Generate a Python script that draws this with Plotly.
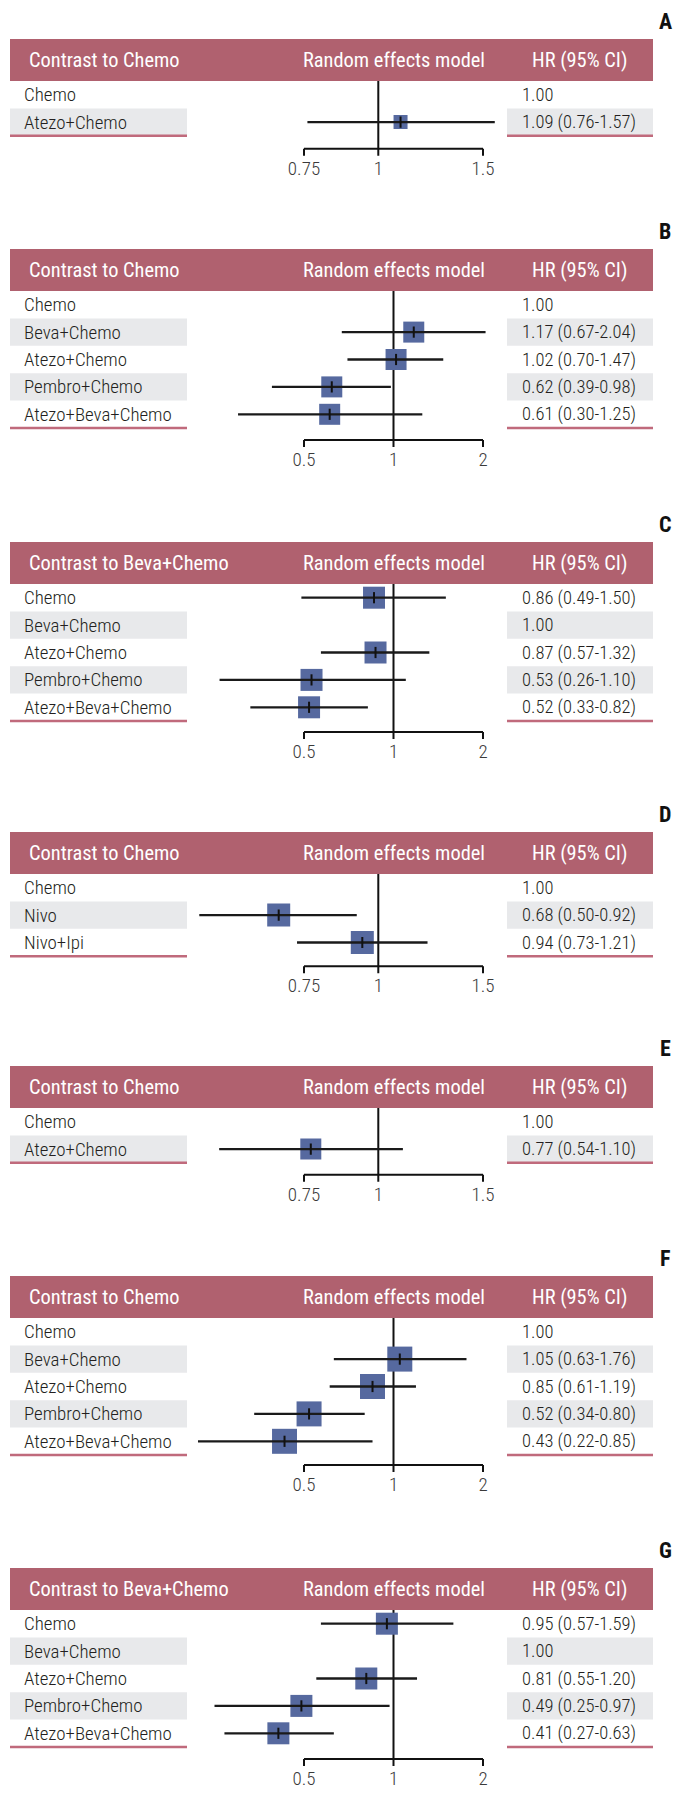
import math
import plotly.graph_objects as go

# The page body has an 8px margin, so the figure is drawn 8px in from the window edge.
PAGE_W, PAGE_H = 683, 1797
OFF = 8
W, H = PAGE_W - 2 * OFF, PAGE_H - 2 * OFF

# ---------------- data ----------------
panel_letters = ["A", "B", "C", "D", "E", "F", "G"]
reference_arms = ["Chemo", "Chemo", "Beva+Chemo", "Chemo", "Chemo", "Chemo", "Beva+Chemo"]

arms_A = ["Chemo", "Atezo+Chemo"]
hr_A = [1.00, 1.09]
lo_A = [None, 0.76]
hi_A = [None, 1.57]
ticks_A = [0.75, 1, 1.5]

arms_B = ["Chemo", "Beva+Chemo", "Atezo+Chemo", "Pembro+Chemo", "Atezo+Beva+Chemo"]
hr_B = [1.00, 1.17, 1.02, 0.62, 0.61]
lo_B = [None, 0.67, 0.70, 0.39, 0.30]
hi_B = [None, 2.04, 1.47, 0.98, 1.25]
ticks_B = [0.5, 1, 2]

arms_C = ["Chemo", "Beva+Chemo", "Atezo+Chemo", "Pembro+Chemo", "Atezo+Beva+Chemo"]
hr_C = [0.86, 1.00, 0.87, 0.53, 0.52]
lo_C = [0.49, None, 0.57, 0.26, 0.33]
hi_C = [1.50, None, 1.32, 1.10, 0.82]
ticks_C = [0.5, 1, 2]

arms_D = ["Chemo", "Nivo", "Nivo+Ipi"]
hr_D = [1.00, 0.68, 0.94]
lo_D = [None, 0.50, 0.73]
hi_D = [None, 0.92, 1.21]
ticks_D = [0.75, 1, 1.5]

arms_E = ["Chemo", "Atezo+Chemo"]
hr_E = [1.00, 0.77]
lo_E = [None, 0.54]
hi_E = [None, 1.10]
ticks_E = [0.75, 1, 1.5]

arms_F = ["Chemo", "Beva+Chemo", "Atezo+Chemo", "Pembro+Chemo", "Atezo+Beva+Chemo"]
hr_F = [1.00, 1.05, 0.85, 0.52, 0.43]
lo_F = [None, 0.63, 0.61, 0.34, 0.22]
hi_F = [None, 1.76, 1.19, 0.80, 0.85]
ticks_F = [0.5, 1, 2]

arms_G = ["Chemo", "Beva+Chemo", "Atezo+Chemo", "Pembro+Chemo", "Atezo+Beva+Chemo"]
hr_G = [0.95, 1.00, 0.81, 0.49, 0.41]
lo_G = [0.57, None, 0.55, 0.25, 0.27]
hi_G = [1.59, None, 1.20, 0.97, 0.63]
ticks_G = [0.5, 1, 2]

panels = [
    (arms_A, hr_A, lo_A, hi_A, ticks_A),
    (arms_B, hr_B, lo_B, hi_B, ticks_B),
    (arms_C, hr_C, lo_C, hi_C, ticks_C),
    (arms_D, hr_D, lo_D, hi_D, ticks_D),
    (arms_E, hr_E, lo_E, hi_E, ticks_E),
    (arms_F, hr_F, lo_F, hi_F, ticks_F),
    (arms_G, hr_G, lo_G, hi_G, ticks_G),
]

# ---------------- layout / style (page pixel positions) ----------------
header_tops = [39, 249, 542, 832, 1066, 1276, 1568]
gaps = [13, 12, 11, 10, 12, 10, 12]
square_sizes = [14, 21, 22, 23, 21, 25, 22]
HEAD = 42
ROW = 27.4
AX_L, AX_R = 304, 483
LEFT_X0, LEFT_X1 = 10, 187
RIGHT_X0, RIGHT_X1 = 507, 653
BELOW = 30


def px(xpage):
    return (xpage - OFF) / W


def py(ypage):
    return (H - (ypage - OFF)) / H


FONT = "Roboto Condensed, Liberation Sans Narrow, DejaVu Sans Condensed, sans-serif"
HEADER_COL = "#b0616f"
PINK_LINE = "#c06a7c"
SHADE = "#e8e9eb"
SQUARE_COL = "#56699f"
TXT = "#231f20"
TICK_TXT = "#3a3a3a"

fig = go.Figure()
shapes, annotations = [], []
layout_axes = {}

for k, (arms, hr, lo, hi, ticks) in enumerate(panels):
    sfx = "" if k == 0 else str(k + 1)
    xname, yname = "x" + sfx, "y" + sfx
    n = len(arms)
    T = header_tops[k]
    gap = gaps[k]
    ya = n - 0.5 + gap / ROW
    top_val = -0.5 - HEAD / ROW
    bot_val = ya + BELOW / ROW
    axis_px = T + HEAD + n * ROW + gap
    dom = [max(0.0, py(axis_px + BELOW)), min(1.0, py(T))]
    lt, ht = min(ticks), max(ticks)
    d = (math.log10(ht) - math.log10(lt)) / (AX_R - AX_L)
    xr = [math.log10(lt) - (AX_L - OFF) * d, math.log10(lt) + (OFF + W - AX_L) * d]
    layout_axes["xaxis" + sfx] = dict(type="log", range=xr, domain=[0, 1], anchor=yname,
                                      visible=False, fixedrange=True)
    layout_axes["yaxis" + sfx] = dict(range=[bot_val, top_val], domain=dom, anchor=xname,
                                      visible=False, fixedrange=True)

    # header bar
    shapes.append(dict(type="rect", xref="paper", yref=yname, x0=px(LEFT_X0), x1=px(RIGHT_X1),
                       y0=top_val, y1=-0.5, fillcolor=HEADER_COL, line=dict(width=0), layer="below"))
    # shaded rows
    for i in range(n):
        if i % 2 == 1:
            for (a, b) in [(LEFT_X0, LEFT_X1), (RIGHT_X0, RIGHT_X1)]:
                shapes.append(dict(type="rect", xref="paper", yref=yname, x0=px(a), x1=px(b),
                                   y0=i - 0.5, y1=i + 0.5, fillcolor=SHADE, line=dict(width=0),
                                   layer="below"))
    # pink bottom lines
    for (a, b) in [(LEFT_X0, LEFT_X1), (RIGHT_X0, RIGHT_X1)]:
        shapes.append(dict(type="line", xref="paper", yref=yname, x0=px(a), x1=px(b),
                           y0=n - 0.5, y1=n - 0.5, line=dict(color=PINK_LINE, width=2.5)))

    # header texts
    hy = -0.5 - HEAD / (2 * ROW)
    hfont = dict(family=FONT, size=20.4, color="white", weight=400)
    annotations.append(dict(xref="paper", yref=yname, x=px(27), y=hy, xanchor="left", yanchor="middle",
                            text="Contrast to " + reference_arms[k], showarrow=False, font=hfont))
    annotations.append(dict(xref="paper", yref=yname, x=px(394), y=hy, xanchor="center", yanchor="middle",
                            text="Random effects model", showarrow=False, font=hfont))
    annotations.append(dict(xref="paper", yref=yname, x=px(579), y=hy, xanchor="center", yanchor="middle",
                            text="HR (95% CI)", showarrow=False, font=hfont))
    # letter
    annotations.append(dict(xref="paper", yref="paper", x=px(665), y=py(T - 31),
                            xanchor="center", yanchor="top", borderpad=0,
                            text="<b>%s</b>" % panel_letters[k],
                            showarrow=False, font=dict(family=FONT, size=22, color="#111111")))
    # row texts
    lfont = dict(family=FONT, size=18.9, color=TXT, weight=300)
    vfont = dict(family=FONT, size=18.5, color=TXT, weight=300)
    for i in range(n):
        annotations.append(dict(xref="paper", yref=yname, x=px(22), y=i, xanchor="left",
                                yanchor="middle", text=arms[i], showarrow=False, font=lfont))
        if lo[i] is None:
            val = "%.2f" % hr[i]
        else:
            val = "%.2f (%.2f-%.2f)" % (hr[i], lo[i], hi[i])
        annotations.append(dict(xref="paper", yref=yname, x=px(520), y=i, xanchor="left",
                                yanchor="middle", text=val, showarrow=False, font=vfont))

    common = dict(xaxis=xname, yaxis=yname, showlegend=False, hoverinfo="skip")
    # reference vertical line at 1
    fig.add_trace(go.Scatter(x=[1, 1], y=[-0.5, ya], mode="lines",
                             line=dict(color="#111111", width=2), **common))
    # axis line
    fig.add_trace(go.Scatter(x=[lt, ht], y=[ya, ya], mode="lines",
                             line=dict(color="#111111", width=2), **common))
    # tick marks
    tx, ty = [], []
    for t in ticks:
        tx += [t, t, None]
        ty += [ya, ya + 7 / ROW, None]
    fig.add_trace(go.Scatter(x=tx, y=ty, mode="lines", line=dict(color="#111111", width=2), **common))
    # tick labels
    fig.add_trace(go.Scatter(x=ticks, y=[ya + 21 / ROW] * len(ticks), mode="text",
                             text=["%g" % t for t in ticks], textposition="middle center",
                             textfont=dict(family=FONT, size=19, color=TICK_TXT, weight=300),
                             cliponaxis=False, **common))
    # squares
    idx = [i for i in range(n) if lo[i] is not None]
    fig.add_trace(go.Scatter(x=[hr[i] for i in idx], y=idx, mode="markers",
                             marker=dict(symbol="square", size=square_sizes[k], color=SQUARE_COL,
                                         line=dict(width=0)), **common))
    # CI lines
    cx, cy = [], []
    for i in idx:
        cx += [lo[i], hi[i], None]
        cy += [i, i, None]
    fig.add_trace(go.Scatter(x=cx, y=cy, mode="lines", line=dict(color="#1a1a1a", width=2.3), **common))
    # centre ticks
    fig.add_trace(go.Scatter(x=[hr[i] for i in idx], y=idx, mode="markers",
                             marker=dict(symbol="line-ns", size=8,
                                         line=dict(width=2, color="#111111")), **common))

fig.update_layout(width=W, height=H, margin=dict(l=0, r=0, t=0, b=0),
                  paper_bgcolor="white", plot_bgcolor="rgba(0,0,0,0)",
                  shapes=shapes, annotations=annotations, hovermode=False, **layout_axes)

fig.write_html("out.html")
